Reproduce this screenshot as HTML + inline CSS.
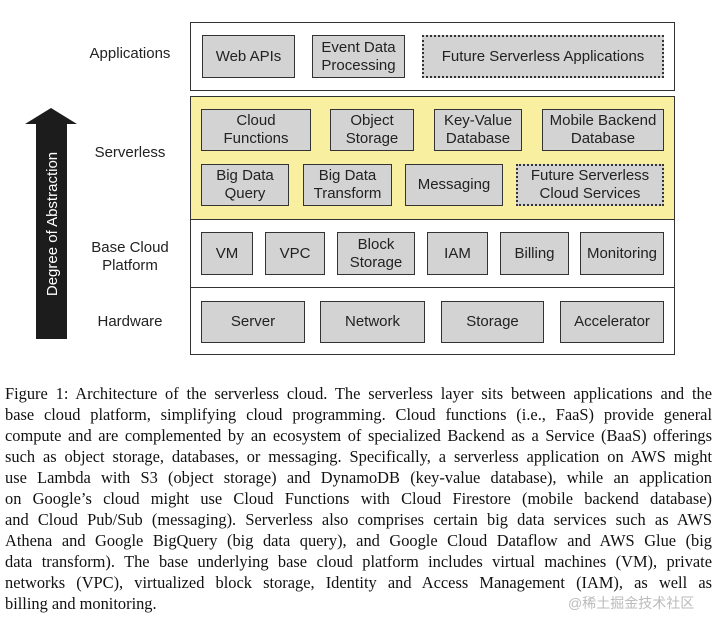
<!DOCTYPE html>
<html><head><meta charset="utf-8"><style>
body{margin:0;width:720px;height:629px;background:#fff;position:relative;overflow:hidden;font-family:"Liberation Sans",sans-serif;color:#222}
.a{position:absolute}
.sec{position:absolute;left:190px;width:485px;border:1.5px solid #333;box-sizing:border-box}
.b{position:absolute;background:#d3d3d3;border:1.5px solid #333;box-sizing:border-box;display:flex;align-items:center;justify-content:center;text-align:center;font-size:15px;line-height:18px}
.d{border:2px dotted #333}
.lab{position:absolute;width:120px;left:70px;text-align:center;font-size:15px;line-height:18px}
.cap{position:absolute;left:5px;width:707px;font-family:"Liberation Serif",serif;font-size:16.4px;line-height:21px;text-align:justify;text-align-last:justify;white-space:nowrap;color:#111}
</style></head><body>
<div class="sec" style="top:22px;height:69px"></div>
<div class="sec" style="top:96px;height:124px;background:#f8f0a0"></div>
<div class="sec" style="top:219px;height:69px;border-top:none"></div>
<div class="sec" style="top:287px;height:68px"></div>

<div class="lab" style="top:45px">Applications</div>
<div class="lab" style="top:144px">Serverless</div>
<div class="lab" style="top:239px">Base Cloud<br>Platform</div>
<div class="lab" style="top:313px">Hardware</div>

<svg class="a" style="left:0;top:0" width="100" height="360"><polygon points="51,108 77,124 67,124 67,339 36,339 36,124 25,124" fill="#1c1c1c"/>
<text x="0" y="0" transform="translate(57,224) rotate(-90)" fill="#fff" font-size="15" text-anchor="middle" font-family="Liberation Sans">Degree of Abstraction</text></svg>

<div class="b" style="left:202px;top:35px;width:93px;height:43px">Web APIs</div>
<div class="b" style="left:312px;top:35px;width:93px;height:43px">Event Data<br>Processing</div>
<div class="b d" style="left:422px;top:35px;width:242px;height:43px">Future Serverless Applications</div>

<div class="b" style="left:201px;top:109px;width:110px;height:42px">Cloud<br>Functions</div>
<div class="b" style="left:330px;top:109px;width:84px;height:42px">Object<br>Storage</div>
<div class="b" style="left:434px;top:109px;width:88px;height:42px">Key-Value<br>Database</div>
<div class="b" style="left:542px;top:109px;width:122px;height:42px">Mobile Backend<br>Database</div>
<div class="b" style="left:201px;top:164px;width:88px;height:42px">Big Data<br>Query</div>
<div class="b" style="left:303px;top:164px;width:89px;height:42px">Big Data<br>Transform</div>
<div class="b" style="left:405px;top:164px;width:98px;height:42px">Messaging</div>
<div class="b d" style="left:516px;top:164px;width:148px;height:42px">Future Serverless<br>Cloud Services</div>

<div class="b" style="left:201px;top:232px;width:52px;height:43px">VM</div>
<div class="b" style="left:265px;top:232px;width:60px;height:43px">VPC</div>
<div class="b" style="left:337px;top:232px;width:78px;height:43px">Block<br>Storage</div>
<div class="b" style="left:427px;top:232px;width:61px;height:43px">IAM</div>
<div class="b" style="left:500px;top:232px;width:69px;height:43px">Billing</div>
<div class="b" style="left:580px;top:232px;width:84px;height:43px">Monitoring</div>

<div class="b" style="left:201px;top:301px;width:104px;height:42px">Server</div>
<div class="b" style="left:320px;top:301px;width:105px;height:42px">Network</div>
<div class="b" style="left:441px;top:301px;width:103px;height:42px">Storage</div>
<div class="b" style="left:560px;top:301px;width:104px;height:42px">Accelerator</div>

<div class="cap" style="top:383px">Figure 1: Architecture of the serverless cloud. The serverless layer sits between applications and the</div>
<div class="cap" style="top:404px">base cloud platform, simplifying cloud programming. Cloud functions (i.e., FaaS) provide general</div>
<div class="cap" style="top:425px">compute and are complemented by an ecosystem of specialized Backend as a Service (BaaS) offerings</div>
<div class="cap" style="top:446px">such as object storage, databases, or messaging. Specifically, a serverless application on AWS might</div>
<div class="cap" style="top:467px">use Lambda with S3 (object storage) and DynamoDB (key-value database), while an application</div>
<div class="cap" style="top:488px">on Google’s cloud might use Cloud Functions with Cloud Firestore (mobile backend database)</div>
<div class="cap" style="top:509px">and Cloud Pub/Sub (messaging). Serverless also comprises certain big data services such as AWS</div>
<div class="cap" style="top:530px">Athena and Google BigQuery (big data query), and Google Cloud Dataflow and AWS Glue (big</div>
<div class="cap" style="top:551px">data transform). The base underlying base cloud platform includes virtual machines (VM), private</div>
<div class="cap" style="top:572px">networks (VPC), virtualized block storage, Identity and Access Management (IAM), as well as</div>
<div class="cap" style="top:593px;text-align-last:left">billing and monitoring.</div>
<div class="a" style="left:568px;top:593px;font-size:14px;color:#bbb;font-family:'Liberation Sans','Noto Sans CJK SC',sans-serif">@稀土掘金技术社区</div>
</body></html>
